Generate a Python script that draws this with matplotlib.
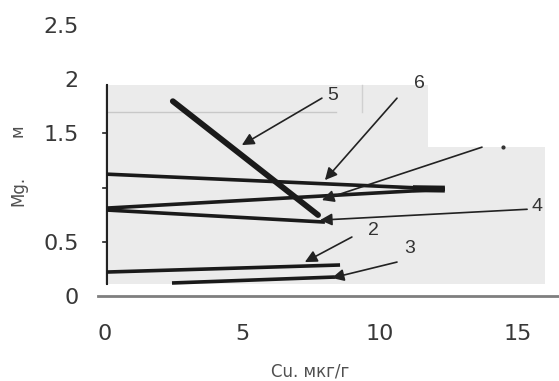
import numpy as np
import matplotlib.pyplot as plt
from matplotlib.patches import Polygon

plt.rcParams['font.family'] = ['DejaVu Sans']

# axis ticks
xticks = [0, 5, 10, 15]
yticks = [0, 0.5, 1.5, 2, 2.5]
ytick_labels = ['0', '0.5', '1.5', '2', '2.5']

# scanned curves (x, y pairs of line ends)
top_line = ([0.07, 12.36], [1.124, 0.986])
rise_line = ([0.07, 12.36], [0.811, 0.986])
desc_line = ([0.07, 8.0], [0.793, 0.682])
line5 = ([2.47, 7.75], [1.797, 0.747])
bottom1 = ([0.07, 8.55], [0.221, 0.286])
bottom2 = ([2.44, 8.36], [0.120, 0.175])

# labels with leader arrows: label, text pos, arrow start, arrow tip
labels = ['5', '6', '2', '3', '4', '']
label_pos = [(8.29, 1.853), (11.45, 1.963), (9.75, 0.608), (11.09, 0.442),
             (15.71, 0.83), (14.47, 1.373)]
arrow_from = [(7.89, 1.825), (10.62, 1.825), (8.98, 0.544), (10.62, 0.313),
              (15.35, 0.80), (13.71, 1.373)]
arrow_to = [(4.98, 1.392), (8.0, 1.069), (7.27, 0.313), (8.25, 0.166),
            (7.82, 0.70), (7.89, 0.885)]

# scan background outline
scan_x = [0, 11.75, 11.75, 16.0, 16.0, 0]
scan_y = [1.945, 1.945, 1.373, 1.373, 0.111, 0.111]

fig = plt.figure(figsize=(5.59, 3.81), dpi=100)
ax = fig.add_axes([98/559, 1-296/381, 1-98/559, 271/381])
ax.set_xlim(-0.25, 16.51)
ax.set_ylim(0, 2.5)

ax.add_patch(Polygon(list(zip(scan_x, scan_y)), closed=True, facecolor='#ebebeb',
                     edgecolor='none', zorder=0))
ax.plot([0.07, 8.4], [1.70, 1.70], color='#c8c8c8', lw=1, zorder=1)
ax.plot([9.36, 9.36], [1.945, 1.70], color='#d0d0d0', lw=1, zorder=1)

# inner (scanned) y axis with ticks
ax.plot([0.07, 0.07], [1.945, 0.111], color='#222222', lw=1.5, zorder=2)
for t in [0.5, 1.0, 1.5]:
    ax.plot([-0.08, 0.07], [t, t], color='#222222', lw=1.2, zorder=2)

for xs, ys in [top_line, rise_line, desc_line, bottom1, bottom2]:
    ax.plot(xs, ys, color='#1a1a1a', lw=2.6, solid_capstyle='butt', zorder=3)
ax.plot([11.2, 12.36], [0.99, 0.986], color='#1a1a1a', lw=5, solid_capstyle='butt', zorder=3)
ax.plot(*line5, color='#1a1a1a', lw=4.2, solid_capstyle='round', zorder=4)

for lab, pos, a, b in zip(labels, label_pos, arrow_from, arrow_to):
    ax.annotate('', xy=b, xytext=a,
                arrowprops=dict(arrowstyle='-|>', color='#222222', lw=1.2,
                                mutation_scale=18, shrinkA=0, shrinkB=0), zorder=5)
    if lab:
        ax.text(pos[0], pos[1], lab, fontsize=14, color='#333333',
                family='Liberation Sans', ha='center', va='center', zorder=6)
ax.plot([label_pos[5][0]], [label_pos[5][1]], marker='o', ms=2, color='#333333')

for s in ['top', 'right', 'left']:
    ax.spines[s].set_visible(False)
ax.spines['bottom'].set_color('#7f7f7f')
ax.spines['bottom'].set_linewidth(2)

ax.set_xticks(xticks)
ax.set_yticks(yticks)
ax.set_yticklabels(ytick_labels)
ax.tick_params(axis='both', length=0, labelsize=16, labelcolor='#383838')
ax.tick_params(axis='x', pad=20)
ax.tick_params(axis='y', pad=14)
ax.patch.set_alpha(0)

fig.text(310/559, 1-372/381, 'Cu. мкг/г', fontsize=12, color='#505050',
         ha='center', va='center')
fig.text(18/559, 1-191/381, 'Mg.', fontsize=12, color='#505050',
         rotation=90, ha='center', va='center')
fig.text(17/559, 1-131/381, 'м', fontsize=12, color='#505050',
         rotation=90, ha='center', va='center')

fig.savefig('out.png', dpi=100)
